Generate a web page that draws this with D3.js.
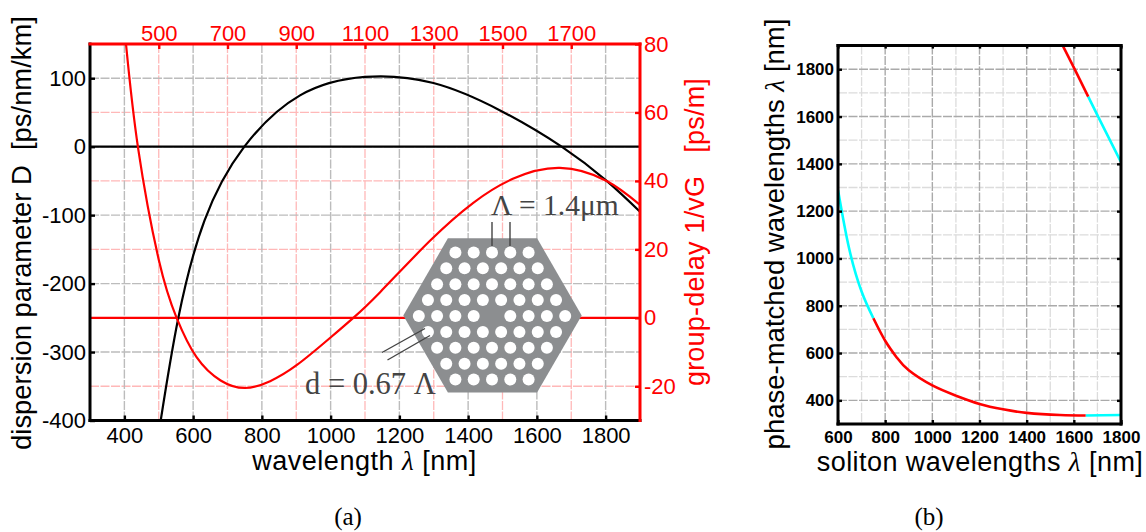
<!DOCTYPE html>
<html><head><meta charset="utf-8">
<script src="https://cdn.jsdelivr.net/npm/d3@7"></script>
<style>html,body{margin:0;background:#fff}svg{display:block}text{font-family:"Liberation Sans",Arial,sans-serif}</style>
</head><body><svg id="c" width="1146" height="532"></svg>
<script>
// ---- data ----
const xTicksA=[400,600,800,1000,1200,1400,1600,1800];
const xTopTicksA=[500,700,900,1100,1300,1500,1700];
const yLeftTicks=[100,0,-100,-200,-300,-400];
const yRightTicks=[80,60,40,20,0,-20];
const dispLambda=[505.7,557,633,749,911,1100,1299,1493,1672,1803,1900];
const dispD=[-400,-250,-108,0,75,102,93,53,0,-50,-95];
const delayLambda=[404.7,440,500,552,610,680,751,824,903,998,1066,1144,1289,1415,1530,1667,1803,1900];
const delayG=[80,49.5,17,0,-11.5,-18.3,-20.5,-18.5,-13.7,-5.9,0,7.5,22.5,33.6,40.6,43.8,40,33];
const xTicksB=[600,800,1000,1200,1400,1600,1800];
const yTicksB=[400,600,800,1000,1200,1400,1600,1800];
const lowCyanX=[600,647,700,750];
const lowCyanY=[1290,1043,860,747];
const lowRedX=[750,800,850,900,1000,1100,1200,1300,1400,1541,1650];
const lowRedY=[747,652,580,527,463,420,385,362,347,338,336];
const lowCyan2X=[1650,1720,1800];
const lowCyan2Y=[336,337,338];
const upRedX=[1553,1605,1661];
const upRedY=[1900,1797,1684];
const upCyanX=[1661,1703,1799];
const upCyanY=[1684,1600,1409];
const holeRows=[5,6,7,8,9,8,7,6,5];

const svg=d3.select('#c');
const grid='#bcbcbc', gridR='#ffb8b8';
const red='#ff0000';
const zip=(a,b)=>a.map((v,i)=>[v,b[i]]);

// ---- panel (a) ----
const L=90,R=640,T=44,B=420.5;
const xA=d3.scaleLinear([300,1900],[L,R]);
const yL=d3.scaleLinear([-400,150],[B,T]);
const yR=d3.scaleLinear([-30,80],[B,T]);
const a=svg.append('g');
function vgrid(g,ticks,x,c,y0,y1,w,dash){g.selectAll(null).data(ticks).join('line').attr('x1',x).attr('x2',x).attr('y1',y0).attr('y2',y1).attr('stroke',c).attr('stroke-width',w).attr('stroke-dasharray',dash);}
function hgrid(g,ticks,y,c,x0,x1,w,dash){g.selectAll(null).data(ticks).join('line').attr('y1',y).attr('y2',y).attr('x1',x0).attr('x2',x1).attr('stroke',c).attr('stroke-width',w).attr('stroke-dasharray',dash);}
vgrid(a,xTopTicksA,xA,gridR,T,B,1.3,'9 1.5');
hgrid(a,yRightTicks.filter(d=>d!==0&&d!==80),yR,gridR,L,R,1.3,'9 1.5');
vgrid(a,xTicksA,xA,grid,T,B,1.4,'9 1.5');
hgrid(a,yLeftTicks.filter(d=>d!==-400),yL,grid,L,R,1.4,'9 1.5');

svg.append('clipPath').attr('id','ca').append('rect').attr('x',L).attr('y',T).attr('width',R-L).attr('height',B-T);
const lineA=(ys)=>d3.line().x(d=>xA(d[0])).y(d=>ys(d[1])).curve(d3.curveNatural);
a.append('line').attr('x1',L).attr('x2',R).attr('y1',yL(0)).attr('y2',yL(0)).attr('stroke','#000').attr('stroke-width',2.2);
a.append('line').attr('x1',L).attr('x2',R).attr('y1',yR(0)).attr('y2',yR(0)).attr('stroke',red).attr('stroke-width',2.2);
a.append('path').attr('d',lineA(yL)(zip(dispLambda,dispD))).attr('fill','none').attr('stroke','#000').attr('stroke-width',2.2).attr('clip-path','url(#ca)');
a.append('path').attr('d',lineA(yR)(zip(delayLambda,delayG))).attr('fill','none').attr('stroke',red).attr('stroke-width',2.2).attr('clip-path','url(#ca)');

// hexagon inset
const hx=d3.scaleLinear([-1,1],[403.3,581.7]);
const hy=d3.scaleLinear([-1,1],[238.3,392.5]);
const hexPts=[[-.5,-1],[.5,-1],[1,0],[.5,1],[-.5,1],[-1,0]];
a.append('polygon').attr('points',hexPts.map(p=>[hx(p[0]),hy(p[1])].join(',')).join(' ')).attr('fill','#8c8e90');
const px=d3.scaleLinear([0,1],[492,510.3]), py=d3.scaleLinear([0,1],[316,331.9]);
const holes=[];
holeRows.forEach((n,i)=>{const r=i-4;for(let k=0;k<n;k++){const c=k-(n-1)/2;if(!(r===0&&c===0))holes.push([c,r]);}});
a.selectAll(null).data(holes).join('circle').attr('cx',d=>px(d[0])).attr('cy',d=>py(d[1])).attr('r',6).attr('fill','#fff');
const ink='#444';
[[492,222,492,246],[510,222,510,246],[382,352.5,425,328.5],[387.5,360,430,335.5]].forEach(s=>{
  a.append('line').attr('x1',s[0]).attr('y1',s[1]).attr('x2',s[2]).attr('y2',s[3]).attr('stroke',ink).attr('stroke-width',1.4);});
a.append('text').attr('x',491).attr('y',215).attr('font-size',29.5).attr('fill',ink).style('font-family','"Liberation Serif",serif').text('Λ = 1.4μm');
a.append('text').attr('x',305).attr('y',394).attr('font-size',30.5).attr('fill',ink).style('font-family','"Liberation Serif",serif').text('d = 0.67 Λ');

// frame + ticks via d3 axes
function style(g,color,fs,weight){g.selectAll('.domain').remove();g.selectAll('line').attr('stroke',color).attr('stroke-width',2.4);g.selectAll('text').attr('fill',color).attr('font-size',fs).attr('font-weight',weight||'normal').style('font-family','"Liberation Sans",sans-serif');}
const fmt=d=>String(d);
svg.append('g').attr('transform',`translate(0,${B})`).call(d3.axisBottom(xA).tickValues(xTicksA).tickFormat(fmt).tickSize(-5).tickPadding(7)).call(g=>style(g,'#000',22));
svg.append('g').attr('transform',`translate(${L},0)`).call(d3.axisLeft(yL).tickValues(yLeftTicks).tickFormat(fmt).tickSize(-5).tickPadding(4)).call(g=>style(g,'#000',22));
svg.append('g').attr('transform',`translate(0,${T})`).call(d3.axisTop(xA).tickValues(xTopTicksA).tickFormat(fmt).tickSize(-5).tickPadding(3)).call(g=>style(g,red,22));
svg.append('g').attr('transform',`translate(${R},0)`).call(d3.axisRight(yR).tickValues(yRightTicks).tickFormat(fmt).tickSize(-5).tickPadding(4)).call(g=>style(g,red,22));
const edge=(x1,y1,x2,y2,c,w=3)=>svg.append('line').attr('x1',x1).attr('y1',y1).attr('x2',x2).attr('y2',y2).attr('stroke',c).attr('stroke-width',w).attr('stroke-linecap','square');
edge(L,B,R,B,'#000');edge(L,T,L,B,'#000');edge(L,T,R,T,red);edge(R,T,R,B,red);

function label(x,y,parts,fs,color,rot,ls){
  const t=svg.append('text').attr('font-size',fs).attr('fill',color).attr('text-anchor','middle').attr('transform',`translate(${x},${y})${rot?` rotate(${rot})`:''}`);
  if(ls)t.style('letter-spacing',ls+'px');
  parts.forEach(p=>{const s=t.append('tspan').text(p);if(p==='λ')s.style('font-family','"Liberation Serif",serif').attr('font-style','italic');});
  return t;
}
label(364.5,470,['wavelength ','λ',' [nm]'],27,'#000',0,0.5);
label(31,233,['dispersion parameter D\u00a0\u00a0[ps/nm/km]'],27.4,'#000',-90);
label(704,232,['group-delay 1/vG\u00a0\u00a0\u00a0[ps/m]'],27,red,-90,0.2);
svg.append('text').attr('x',348).attr('y',525).attr('text-anchor','middle').attr('font-size',25).style('font-family','"Liberation Serif",serif').text('(a)');
svg.append('text').attr('x',929).attr('y',525).attr('text-anchor','middle').attr('font-size',25).style('font-family','"Liberation Serif",serif').text('(b)');

// ---- panel (b) ----
const bL=838,bR=1121,bT=45.6,bB=424;
const xB=d3.scaleLinear([600,1800],[bL,bR]);
const yB=d3.scaleLinear([300,1900],[bB,bT]);
const b=svg.append('g');
const minorX=d3.range(700,1800,200), minorY=d3.range(500,1900,200);
vgrid(b,minorX,xB,'#dcdcdc',bT,bB,1.3,'9 1.5');
hgrid(b,minorY,yB,'#dcdcdc',bL,bR,1.3,'9 1.5');
vgrid(b,xTicksB.slice(1,-1),xB,'#aaa',bT,bB,1.4,'9 1.5');
hgrid(b,yTicksB,yB,'#aaa',bL,bR,1.4,'9 1.5');
svg.append('clipPath').attr('id','cb').append('rect').attr('x',bL).attr('y',bT).attr('width',bR-bL).attr('height',bB-bT);
const lineB=d3.line().x(d=>xB(d[0])).y(d=>yB(d[1])).curve(d3.curveNatural);
[[lowCyanX,lowCyanY,'#00ffff'],[lowCyan2X,lowCyan2Y,'#00ffff'],[upCyanX,upCyanY,'#00ffff'],[lowRedX,lowRedY,red],[upRedX,upRedY,red]].forEach(s=>{
  b.append('path').attr('d',lineB(zip(s[0],s[1]))).attr('fill','none').attr('stroke',s[2]).attr('stroke-width',2.6).attr('clip-path','url(#cb)');});
const noLabel=()=>'';
svg.append('g').attr('transform',`translate(0,${bB})`).call(d3.axisBottom(xB).tickValues(xTicksB).tickFormat(fmt).tickSize(-4).tickPadding(7)).call(g=>style(g,'#000',17,'bold'));
svg.append('g').attr('transform',`translate(${bL},0)`).call(d3.axisLeft(yB).tickValues(yTicksB).tickFormat(fmt).tickSize(-4).tickPadding(4)).call(g=>style(g,'#000',17,'bold'));
svg.append('g').attr('transform',`translate(${bR},0)`).call(d3.axisLeft(yB).tickValues(yTicksB).tickFormat(noLabel).tickSize(4)).call(g=>{style(g,'#000',17,'bold');g.selectAll('text').remove();});
svg.append('g').attr('transform',`translate(0,${bT})`).call(d3.axisTop(xB).tickValues(xTicksB).tickFormat(noLabel).tickSize(-3)).call(g=>{style(g,'#000',17,'bold');g.selectAll('text').remove();});
edge(bL,bB,bR,bB,'#000');edge(bL,bT,bL,bB,'#000');edge(bL,bT,bR,bT,'#000');edge(bR,bT,bR,bB,'#000');
label(980,471,['soliton wavelengths ','λ',' [nm]'],27,'#000',0,0.45);
label(784,234,['phase-matched wavelengths ','λ',' [nm]'],27.5,'#000',-90);
</script></body></html>
